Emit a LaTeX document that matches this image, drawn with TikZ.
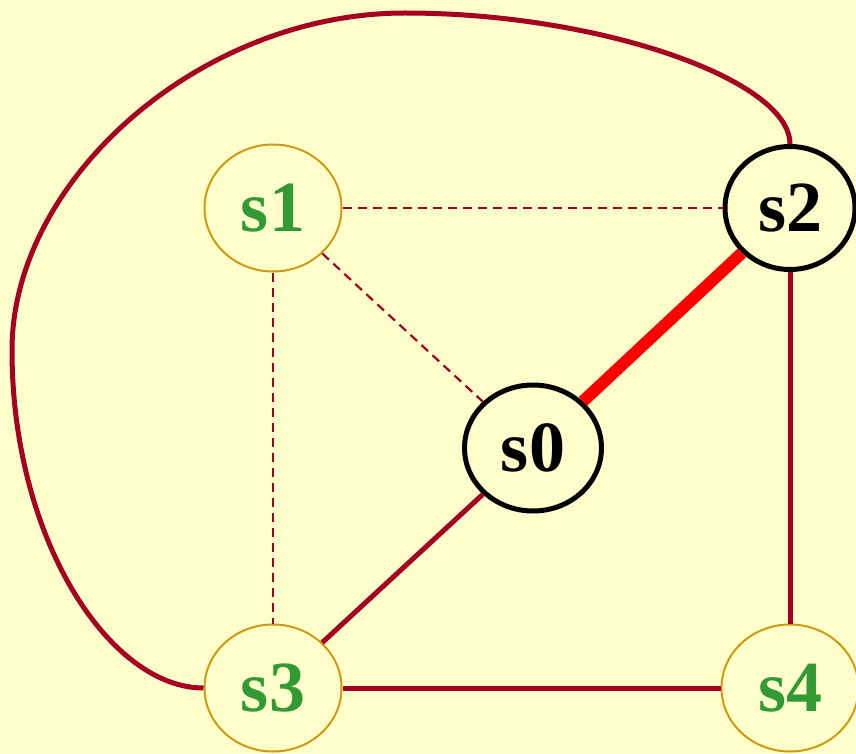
\documentclass[tikz,border=0pt]{standalone}
\usepackage{fontspec}
\setmainfont{Liberation Serif}
\usetikzlibrary{shapes.geometric}
\definecolor{bgyellow}{HTML}{FFFFCC}
\definecolor{edgered}{HTML}{A50021}
\definecolor{goldline}{HTML}{D09A10}
\definecolor{labelgreen}{HTML}{339933}
\tikzset{
  state/.style={ellipse, inner sep=0pt, font=\fontsize{72}{72}\selectfont\bfseries},
  pale/.style={state, draw=goldline, line width=2pt, text=labelgreen, minimum width=137pt, minimum height=127pt},
  active/.style={state, draw=black, line width=5pt, text=black, minimum width=136pt, minimum height=126pt},
  edge/.style={draw=edgered, line width=5pt},
  dashedge/.style={draw=edgered, line width=2.2pt, dash pattern=on 9pt off 6pt},
  hot/.style={draw=red, line width=12pt}
}
\begin{document}
\begin{tikzpicture}[x=1pt,y=-1pt]
\fill[bgyellow] (0,0) rectangle (856,754);
\useasboundingbox (0,0) rectangle (856,754);
\node[pale] (s1) at (273,208) {s1};
\node[active, minimum width=130pt, minimum height=123pt] (s2) at (790,208) {s2};
\node[active, minimum width=137pt, minimum height=126pt] (s0) at (533,448) {s0};
\node[pale] (s3) at (273,688) {s3};
\node[pale] (s4) at (790,688) {s4};
\draw[dashedge] (s1) -- (s2);
\draw[dashedge] (s1) -- (s0);
\draw[dashedge] (s1) -- (s3);
\draw[hot] (s0) -- (s2);
\draw[edge] (s0) -- (s3);
\draw[edge] (s3) -- (s4);
\draw[edge] (s2) -- (s4);
\draw[edge] (s2.north) .. controls (790,80) and (600,13) .. (405,13)
  .. controls (200,13) and (12,180) .. (12,350)
  .. controls (12,540) and (110,688) .. (s3.west);
\end{tikzpicture}
\end{document}
